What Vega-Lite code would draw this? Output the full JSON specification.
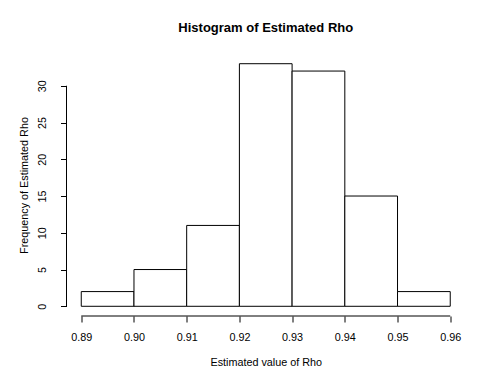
{
  "$schema": "https://vega.github.io/schema/vega-lite/v6.json",
  "width": 398.5,
  "height": 262,
  "autosize": "none",
  "padding": {"left": 66.5, "top": 54, "right": 17, "bottom": 65},
  "background": "white",
  "config": {
    "view": {"stroke": null},
    "font": "Liberation Sans",
    "axis": {
      "grid": false,
      "domain": false,
      "tickColor": "#000",
      "tickSize": 6,
      "tickWidth": 1,
      "labelFont": "Liberation Sans",
      "labelFontSize": 10.8,
      "labelColor": "#000",
      "titleFont": "Liberation Sans",
      "titleFontSize": 10.8,
      "titleFontWeight": "normal",
      "titleColor": "#000"
    }
  },
  "title": {
    "text": "Histogram of Estimated Rho",
    "font": "Liberation Sans",
    "fontSize": 13,
    "fontWeight": "bold",
    "color": "#000",
    "anchor": "middle",
    "frame": "group",
    "baseline": "alphabetic",
    "offset": 9.5
  },
  "data": {
    "values": [
      {"start": 0.89, "end": 0.90, "count": 2},
      {"start": 0.90, "end": 0.91, "count": 5},
      {"start": 0.91, "end": 0.92, "count": 11},
      {"start": 0.92, "end": 0.93, "count": 33},
      {"start": 0.93, "end": 0.94, "count": 32},
      {"start": 0.94, "end": 0.95, "count": 15},
      {"start": 0.95, "end": 0.96, "count": 2}
    ]
  },
  "layer": [
    {
      "mark": {"type": "rect", "fill": "white", "stroke": "#000", "strokeWidth": 1},
      "encoding": {
        "x": {
          "field": "start",
          "type": "quantitative",
          "scale": {"domain": [0.8872, 0.9628], "nice": false, "zero": false},
          "axis": {
            "title": "Estimated value of Rho",
            "values": [0.89, 0.90, 0.91, 0.92, 0.93, 0.94, 0.95, 0.96],
            "format": ".2f",
            "labelPadding": 9,
            "labelBaseline": "top",
            "titlePadding": 15
          }
        },
        "x2": {"field": "end"},
        "y": {
          "field": "count",
          "type": "quantitative",
          "scale": {"domain": [-1.32, 34.32], "nice": false, "zero": false},
          "axis": {
            "title": "Frequency of Estimated Rho",
            "values": [0, 5, 10, 15, 20, 25, 30],
            "labelAngle": -90,
            "labelAlign": "center",
            "labelBaseline": "alphabetic",
            "labelPadding": 15,
            "titlePadding": 7
          }
        },
        "y2": {"datum": 0}
      }
    },
    {
      "data": {"values": [{}]},
      "mark": {"type": "rule", "stroke": "#000", "strokeWidth": 1},
      "encoding": {
        "x": {"datum": 0.89, "type": "quantitative"},
        "x2": {"datum": 0.96},
        "y": {"datum": -1.32, "type": "quantitative"}
      }
    },
    {
      "data": {"values": [{}]},
      "mark": {"type": "rule", "stroke": "#000", "strokeWidth": 1},
      "encoding": {
        "x": {"datum": 0.8872, "type": "quantitative"},
        "y": {"datum": 0, "type": "quantitative"},
        "y2": {"datum": 30}
      }
    }
  ]
}
